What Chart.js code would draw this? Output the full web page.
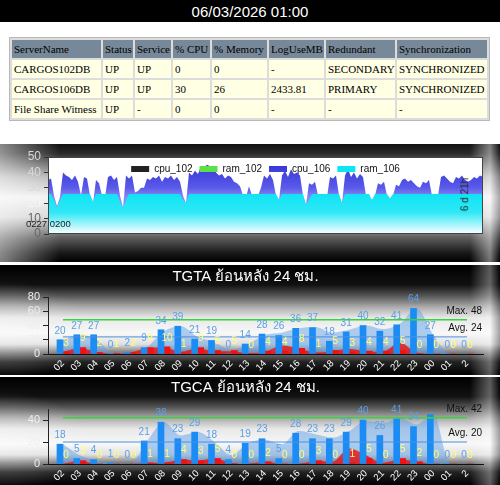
<!DOCTYPE html>
<html>
<head>
<meta charset="utf-8">
<script src="https://cdn.jsdelivr.net/npm/chart.js@4.4.1/dist/chart.umd.min.js"></script>
<style>
  body { margin: 0; width: 500px; height: 485px; background: #fff; position: relative; overflow: hidden;
         font-family: "Liberation Sans", Arial, sans-serif; }
  #stamp { position: absolute; left: 0; top: 0; width: 500px; height: 22px; background: #000; color: #fff;
           font-size: 15px; line-height: 23px; text-align: center; }
  table.srv { position: absolute; left: 9px; top: 37px; width: 481px; table-layout: fixed;
              border-collapse: separate; border-spacing: 2px; border: 1px solid #b8b8b8; background: #dcdcdc;
              font-family: "Liberation Serif", "Times New Roman", serif; font-size: 11px; color: #000; }
  table.srv th, table.srv td { height: 18px; padding: 0 0 0 2px; text-align: left; font-weight: normal;
                               white-space: nowrap; overflow: hidden; }
  table.srv th { background: #778899; }
  table.srv td { background: #ffffe4; }
  .panel { position: absolute; left: 0; width: 500px; overflow: hidden; }
  .panel canvas { position: absolute; left: 0; top: 0; }
  #p1 { top: 144px; height: 118px;
        background:
          linear-gradient(to right, rgba(255,255,255,.5) 0, rgba(255,255,255,0) 60px, rgba(255,255,255,0) 470px, rgba(255,255,255,.45) 490px, rgba(0,0,0,.3) 500px),
          linear-gradient(to bottom, #111 0%, #2a2a2a 8%, #b8b8b8 28%, #f2f2f2 45%, #d6d6d6 62%, #5a5a5a 80%, #1a1a1a 92%, #000 100%); }
  #p2 { top: 265px; height: 110px; }
  #p3 { top: 377px; height: 108px; }
  #p2, #p3 {
        background:
          radial-gradient(ellipse 90px 50px at 0% 60%, rgba(255,255,255,.35), rgba(255,255,255,0)),
          linear-gradient(to right, rgba(0,0,0,0) 470px, rgba(255,255,255,.35) 490px, rgba(0,0,0,.35) 500px),
          linear-gradient(to bottom, #000 0%, #111 18%, #555 28%, #aaa 38%, #e8e8e8 48%, #f8f8f8 62%, #e0e0e0 72%, #777 80%, #222 88%, #000 100%); }
  .note { position: absolute; color: #222; white-space: nowrap; }
  #first { left: 26px; top: 74px; font-size: 9.5px; }
  #span { left: 448px; top: 45px; font-size: 10px; transform: rotate(-90deg); transform-origin: 50% 50%; }
</style>
</head>
<body>
<div id="stamp">06/03/2026 01:00</div>

<table class="srv">
  <colgroup>
    <col style="width:89px"><col style="width:30px"><col style="width:36px"><col style="width:37px">
    <col style="width:55px"><col style="width:55px"><col style="width:69px"><col style="width:90px">
  </colgroup>
  <thead id="srvHead"></thead>
  <tbody id="srvBody"></tbody>
</table>

<div class="panel" id="p1">
  <canvas id="usage" width="500" height="118"></canvas>
  <div class="note" id="first">0227 0200</div>
  <div class="note" id="span">6 d 21h</div>
</div>
<div class="panel" id="p2"><canvas id="tgta" width="500" height="110"></canvas></div>
<div class="panel" id="p3"><canvas id="tgca" width="500" height="108"></canvas></div>

<script>
// ---- server table ----
const srvCols = ["ServerName", "Status", "Service", "% CPU", "% Memory", "LogUseMB", "Redundant", "Synchronization"];
const srvRows = [
  ["CARGOS102DB", "UP", "UP", "0", "0", "-", "SECONDARY", "SYNCHRONIZED"],
  ["CARGOS106DB", "UP", "UP", "30", "26", "2433.81", "PRIMARY", "SYNCHRONIZED"],
  ["File Share Witness", "UP", "-", "0", "0", "-", "-", "-"],
];

// ---- usage strip (one sample every few minutes) ----
const cpu106 = [
  35, 36, 25, 18, 24, 40, 38, 37, 35, 38,
  34, 25, 37, 36, 25, 20, 35, 33, 25, 24,
  37, 38, 35, 37, 25, 17, 38, 36, 38, 27,
  28, 30, 30, 36, 35, 37, 36, 38, 34, 37,
  36, 38, 35, 37, 34, 25, 20, 40, 38, 41,
  39, 44, 43, 45, 44, 43, 40, 38, 39, 36,
  38, 37, 34, 33, 31, 25, 24, 31, 25, 24,
  25, 30, 38, 36, 39, 35, 25, 22, 38, 41,
  37, 42, 39, 40, 38, 25, 19, 33, 32, 34,
  25, 24, 25, 24, 37, 36, 38, 25, 20, 38,
  42, 37, 40, 36, 39, 37, 25, 24, 22, 25,
  33, 32, 34, 25, 23, 25, 32, 31, 35, 36,
  34, 35, 33, 31, 30, 34, 33, 35, 25, 24,
  25, 37, 38, 36, 34, 33, 37, 36, 38, 35,
  34, 35, 37, 36, 38, 37,
];
const ram106 = [
  26, 26, 22, 17, 22, 26, 26, 26, 26, 26,
  26, 26, 26, 26, 26, 21, 26, 26, 26, 26,
  26, 26, 26, 26, 21, 17, 22, 26, 26, 26,
  26, 26, 26, 26, 26, 26, 26, 26, 26, 26,
  26, 26, 26, 26, 26, 22, 20, 26, 26, 26,
  26, 26, 26, 26, 26, 26, 26, 26, 26, 26,
  26, 26, 26, 26, 26, 26, 26, 26, 26, 26,
  26, 26, 26, 26, 26, 26, 26, 22, 26, 26,
  26, 26, 26, 26, 26, 26, 19, 22, 26, 26,
  26, 26, 26, 26, 26, 26, 26, 26, 20, 26,
  26, 26, 26, 26, 26, 26, 26, 26, 22, 26,
  26, 26, 26, 26, 23, 26, 26, 26, 26, 26,
  26, 26, 26, 26, 26, 26, 26, 26, 26, 26,
  26, 26, 26, 26, 26, 26, 26, 26, 26, 26,
  26, 26, 26, 26, 26, 26,
];
// the secondary node sits at 0 for the whole window
const cpu102 = new Array(cpu106.length).fill(0);
const ram102 = new Array(cpu106.length).fill(0);

// ---- hourly charts ----
const hours = ["02", "03", "04", "05", "06", "07", "08", "09", "10", "11", "12", "13",
               "14", "15", "16", "17", "18", "19", "20", "21", "22", "23", "00", "01", "2"];

const tgtaCount    = [20, 27, 27, 0, 2, 9, 34, 39, 21, 19, 0, 14, 28, 26, 36, 37, 18, 31, 40, 32, 41, 64, 27, 0, 0];
const tgtaTrend    = [20, 27, 20, 2, 3, 10, 32, 39, 24, 17, 6, 14, 27, 30, 36, 38, 30, 34, 40, 35, 42, 64, 27, 0, 0];
const tgtaErr      = [3, 9, 2, 1, 2, 9, 10, 1, 9, 5, 5, 0, 4, 4, 8, 1, 5, 3, 4, 4, 5, 0, 0, 0, 0];
const tgtaErrTrend = [3, 8, 3, 0, 2, 8, 9, 3, 8, 4, 4, 1, 3, 12, 8, 2, 4, 7, 4, 3, 16, 2, 0, 0, 0];
const tgtaMax = 48;
const tgtaAvg = 24;

const tgcaCount    = [18, 5, 4, 1, 0, 21, 38, 23, 29, 18, 4, 19, 23, 5, 28, 23, 23, 29, 40, 26, 41, 34, 45, 0, 0];
const tgcaTrend    = [18, 8, 3, 1, 0, 21, 38, 26, 29, 20, 8, 19, 22, 18, 30, 27, 24, 30, 39, 37, 42, 36, 45, 0, 0];
const tgcaErr      = [0, 3, 0, 0, 0, 1, 1, 4, 3, 5, 0, 0, 2, 0, 0, 3, 0, 1, 5, 0, 5, 2, 0, 0, 0];
const tgcaErrTrend = [0, 3, 0, 0, 0, 1, 1, 4, 3, 5, 1, 0, 2, 0, 0, 3, 2, 14, 8, 1, 4, 2, 0, 0, 0];
const tgcaMax = 42;
const tgcaAvg = 20;

const FONT = '"Liberation Sans", Arial, "DejaVu Sans", sans-serif';

function fillTable() {
  document.getElementById("srvHead").innerHTML =
    "<tr>" + srvCols.map((c) => `<th>${c}</th>`).join("") + "</tr>";
  document.getElementById("srvBody").innerHTML = srvRows
    .map((r) => "<tr>" + r.map((c) => `<td>${c}</td>`).join("") + "</tr>")
    .join("");
}

// white plot box behind the usage areas
const plotBox = {
  id: "plotBox",
  beforeDatasetsDraw(chart) {
    const { ctx, chartArea: a } = chart;
    ctx.save();
    ctx.fillStyle = "#fff";
    ctx.fillRect(a.left, a.top, a.width, a.height);
    ctx.restore();
  },
  afterDatasetsDraw(chart) {
    const { ctx, chartArea: a } = chart;
    ctx.save();
    ctx.strokeStyle = "#444";
    ctx.lineWidth = 1;
    ctx.strokeRect(a.left + 0.5, a.top + 0.5, a.width - 1, a.height - 1);
    ctx.restore();
  },
};

// legend drawn over the top of the plot instead of taking its own row:
// it reports no height to the layout, then gets its real size back for drawing
const legendInside = {
  id: "legendInside",
  beforeLayout(chart) {
    const lg = chart.legend;
    if (!lg || lg._inside) return;
    const fit = lg.fit.bind(lg);
    lg.fit = () => { fit(); lg._realHeight = lg.height; lg.height = 0; };
    lg._layers = () => [{ z: 1, draw: (area) => lg.draw(area) }];
    lg._inside = true;
  },
  afterLayout(chart) {
    const lg = chart.legend;
    if (!lg || !lg._inside) return;
    const a = chart.chartArea;
    lg.left = a.left;
    lg.right = a.right;
    lg.width = a.right - a.left;
    lg.height = lg._realHeight;
    lg.bottom = lg.top + lg._realHeight;
  },
};

function vGrad(chart, stops, fallback) {
  const a = chart.chartArea;
  if (!a) return fallback;
  const y = chart.scales.y;
  const g = chart.ctx.createLinearGradient(0, a.top, 0, a.bottom);
  stops.forEach(([v, c]) => g.addColorStop(Math.min(1, Math.max(0, (y.getPixelForValue(v) - a.top) / a.height)), c));
  return g;
}

function drawUsage() {
  const idx = cpu106.map((_, i) => i);
  const area = (label, data, color, order, bg) => ({
    label, data, order,
    borderWidth: 0, pointRadius: 0, tension: 0, fill: "origin",
    borderColor: color,
    backgroundColor: bg || color,
  });
  new Chart(document.getElementById("usage"), {
    type: "line",
    data: {
      labels: idx,
      datasets: [
        area("cpu_102", cpu102, "#222", 1),
        area("ram_102", ram102, "#5be04a", 0),
        area("cpu_106", cpu106, "#3a3ad8", 3,
          (c) => vGrad(c.chart, [[46, "#3434d6"], [30, "#5a5aea"], [24, "#8a8af4"]], "#3a3ad8")),
        area("ram_106", ram106, "#19e6f2", 2,
          (c) => vGrad(c.chart, [[26, "#0fe4f4"], [14, "#30e8f6"], [0, "#ffffff"]], "#19e6f2")),
      ],
    },
    options: {
      responsive: false,
      animation: false,
      events: [],
      layout: { padding: { left: 8, right: 17, top: 13, bottom: 28 } },
      plugins: {
        tooltip: { enabled: false },
        legend: {
          position: "top",
          labels: {
            boxWidth: 18, boxHeight: 6, padding: 7, color: "#111",
            font: { family: FONT, size: 10 },
            sort: (a, b) => a.datasetIndex - b.datasetIndex,
          },
        },
      },
      scales: {
        x: { display: false },
        y: {
          min: 0, max: 50,
          ticks: {
            stepSize: 10, padding: 3, autoSkip: false,
            font: { family: FONT, size: 12 },
            color: (c) => (!c.tick ? "#666" : c.tick.value >= 30 ? "#d8d8d8" : c.tick.value === 20 ? "#f6f6f6" : "#666"),
          },
          grid: { drawOnChartArea: false, tickLength: 4, color: "#333" },
          border: { color: "#333" },
          afterFit: (s) => { s.width = 40; },
        },
      },
    },
    plugins: [plotBox, legendInside],
  });
}

// numbers over the bars
const barLabels = {
  id: "barLabels",
  afterDatasetsDraw(chart) {
    const { ctx, chartArea } = chart;
    chart.data.datasets.forEach((ds, i) => {
      if (!ds.labelColor) return;
      const meta = chart.getDatasetMeta(i);
      ctx.save();
      ctx.font = "10px " + FONT;
      ctx.fillStyle = ds.labelColor;
      ctx.textAlign = "center";
      ctx.textBaseline = "bottom";
      meta.data.forEach((bar, j) => {
        const y = bar.y - 4;
        if (y - 10 < chartArea.top - 6) return; // no room above the plot
        ctx.fillText(ds.data[j], bar.x, y);
      });
      ctx.restore();
    });
  },
};

// "Max. 48" / "Avg. 24" captions
const refText = {
  id: "refText",
  afterDatasetsDraw(chart) {
    const { ctx, chartArea, scales } = chart;
    chart.data.datasets.forEach((ds) => {
      if (!ds.refLabel) return;
      const y = scales.y.getPixelForValue(ds.data[0]);
      ctx.save();
      ctx.font = "10px " + FONT;
      ctx.fillStyle = "#111";
      ctx.textAlign = "right";
      ctx.textBaseline = "bottom";
      ctx.fillText(ds.refLabel + ds.data[0], chartArea.right - 1, y - 4);
      ctx.restore();
    });
  },
};

function drawHourly(id, title, counts, trend, errs, errTrend, yMax, maxVal, avgVal, titleTop, plotBottom) {
  const idx = counts.map((_, i) => i);
  new Chart(document.getElementById(id), {
    type: "bar",
    data: {
      labels: idx,
      datasets: [
        { type: "line", data: trend, order: 6, fill: "origin", backgroundColor: "rgba(95,160,232,0.5)",
          borderWidth: 0, pointRadius: 0, tension: 0.4, cubicInterpolationMode: "monotone" },
        { type: "line", data: errTrend, order: 5, fill: "origin", backgroundColor: "rgba(236,18,18,0.8)",
          borderWidth: 0, pointRadius: 0, tension: 0.4, cubicInterpolationMode: "monotone" },
        { data: counts, order: 2, backgroundColor: "#1c8cf5", barThickness: 6, labelColor: "#5b9fe6" },
        { data: errs, order: 3, backgroundColor: "#f01212", barThickness: 6, labelColor: "#ffff78" },
        { type: "line", data: idx.map(() => avgVal), order: 1, borderColor: "#4a8fe0", borderWidth: 1,
          pointRadius: 0, fill: false, refLabel: "Avg. " },
        { type: "line", data: idx.map(() => maxVal), order: 0, borderColor: "#3ad43a", borderWidth: 1.5,
          pointRadius: 0, fill: false, refLabel: "Max. " },
      ],
    },
    options: {
      responsive: false,
      animation: false,
      events: [],
      layout: { padding: { left: 8, right: 17, top: 0, bottom: 0 } },
      plugins: {
        tooltip: { enabled: false },
        legend: { display: false },
        title: {
          display: true, text: title, color: "#fff",
          font: { family: FONT, size: 15, weight: "normal", lineHeight: 1.2 },
          padding: { top: titleTop, bottom: 32 - titleTop - 18 },
        },
      },
      scales: {
        x: {
          type: "linear", min: -0.89, max: 24.95, offset: false,
          ticks: {
            stepSize: 1, includeBounds: false, autoSkip: false,
            minRotation: 45, maxRotation: 45, padding: 4,
            color: "#fff", font: { family: FONT, size: 9.5 },
            callback: (v) => hours[v],
          },
          grid: { display: false, drawTicks: false, offset: false },
          border: { color: "#111" },
          afterFit: (s) => { s.height = s.chart.height - plotBottom; },
        },
        y: {
          min: 0, max: yMax,
          ticks: { stepSize: 20, includeBounds: false, autoSkip: false, padding: 3,
                   color: "#eee", font: { family: FONT, size: 11 } },
          grid: { drawOnChartArea: false, tickLength: 5, color: "#222" },
          border: { color: "#222" },
          afterFit: (s) => { s.width = 40; },
        },
      },
    },
    plugins: [barLabels, refText],
  });
}

fillTable();
drawUsage();
drawHourly("tgta", "TGTA ย้อนหลัง 24 ชม.", tgtaCount, tgtaTrend, tgtaErr, tgtaErrTrend, 80, tgtaMax, tgtaAvg, 3, 89);
drawHourly("tgca", "TGCA ย้อนหลัง 24 ชม.", tgcaCount, tgcaTrend, tgcaErr, tgcaErrTrend, 50, tgcaMax, tgcaAvg, 2, 87);
</script>
</body>
</html>
